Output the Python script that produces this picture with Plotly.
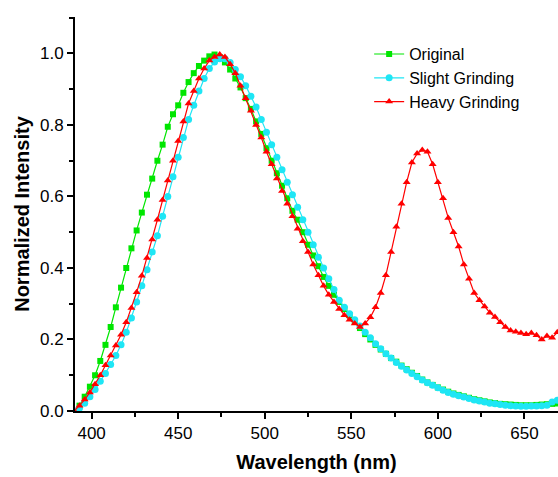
import plotly.graph_objects as go

wavelength = list(range(390, 670, 3))

original = [
    0.0, 0.015, 0.04, 0.068, 0.10, 0.14, 0.185, 0.235, 0.29, 0.345,
    0.40, 0.455, 0.505, 0.555, 0.605, 0.65, 0.70, 0.745, 0.795, 0.83,
    0.855, 0.89, 0.92, 0.945, 0.965, 0.98, 0.992, 0.997, 0.99, 0.975,
    0.955, 0.93, 0.905, 0.875, 0.845, 0.81, 0.775, 0.735, 0.70, 0.665,
    0.63, 0.595, 0.56, 0.535, 0.50, 0.465, 0.435, 0.405, 0.375, 0.35,
    0.325, 0.305, 0.285, 0.268, 0.25, 0.232, 0.215, 0.20, 0.185, 0.172,
    0.16, 0.148, 0.138, 0.127, 0.117, 0.107, 0.098, 0.088, 0.08, 0.073,
    0.066, 0.06, 0.054, 0.049, 0.045, 0.041, 0.037, 0.033, 0.03, 0.027,
    0.024, 0.022, 0.02, 0.019, 0.018, 0.017, 0.016, 0.016, 0.016, 0.017,
    0.018, 0.019, 0.02, 0.021,
]

slight = [
    0.0, 0.008, 0.022, 0.04, 0.06, 0.083, 0.105, 0.13, 0.155, 0.185,
    0.22, 0.26, 0.305, 0.35, 0.395, 0.445, 0.49, 0.545, 0.60, 0.655,
    0.71, 0.765, 0.815, 0.855, 0.895, 0.93, 0.958, 0.976, 0.985, 0.985,
    0.975, 0.955, 0.935, 0.91, 0.88, 0.85, 0.815, 0.78, 0.745, 0.71,
    0.675, 0.64, 0.605, 0.57, 0.535, 0.50, 0.465, 0.43, 0.40, 0.37,
    0.34, 0.31, 0.29, 0.272, 0.255, 0.238, 0.22, 0.205, 0.188, 0.174,
    0.16, 0.148, 0.136, 0.125, 0.115, 0.105, 0.096, 0.087, 0.079, 0.072,
    0.065, 0.058, 0.052, 0.047, 0.043, 0.039, 0.035, 0.031, 0.028, 0.025,
    0.022, 0.02, 0.018, 0.016, 0.015, 0.014, 0.013, 0.013, 0.014, 0.014,
    0.015, 0.016, 0.025, 0.03,
]

heavy = [
    0.0, 0.015, 0.032, 0.052, 0.075, 0.10, 0.128, 0.155, 0.183, 0.213,
    0.248, 0.288, 0.332, 0.378, 0.428, 0.48, 0.535, 0.59, 0.645, 0.70,
    0.755, 0.81, 0.86, 0.895, 0.93, 0.958, 0.98, 0.99, 0.997, 0.99,
    0.97, 0.945, 0.91, 0.875, 0.84, 0.80, 0.765, 0.725, 0.69, 0.65,
    0.615, 0.58, 0.545, 0.51, 0.475, 0.445, 0.41, 0.38, 0.35, 0.325,
    0.305, 0.285, 0.268, 0.255, 0.245, 0.235, 0.245, 0.262, 0.29, 0.33,
    0.38, 0.445, 0.515, 0.58, 0.64, 0.695, 0.72, 0.73, 0.725, 0.69,
    0.64, 0.595, 0.54, 0.50, 0.46, 0.41, 0.37, 0.33, 0.31, 0.292,
    0.275, 0.263, 0.248, 0.235, 0.225, 0.222, 0.218, 0.215, 0.218, 0.212,
    0.20, 0.21, 0.205, 0.22,
]

series_names = ["Original", "Slight Grinding", "Heavy Grinding"]

fig = go.Figure()
fig.add_trace(go.Scatter(
    x=wavelength, y=original, name=series_names[0], mode="lines+markers",
    line=dict(color="#00e600", width=1.2),
    marker=dict(symbol="square", size=6, color="#00e600"),
))
fig.add_trace(go.Scatter(
    x=wavelength, y=slight, name=series_names[1], mode="lines+markers",
    line=dict(color="#1ee6f5", width=1.2),
    marker=dict(symbol="circle", size=7, color="#1ee6f5"),
))
fig.add_trace(go.Scatter(
    x=wavelength, y=heavy, name=series_names[2], mode="lines+markers",
    line=dict(color="#ff0000", width=1.2),
    marker=dict(symbol="triangle-up", size=7, color="#ff0000"),
))

font_family = "Liberation Sans, Arial, sans-serif"

fig.update_layout(
    width=558, height=477,
    margin=dict(l=75, r=0, t=17, b=66),
    paper_bgcolor="white", plot_bgcolor="white",
    font=dict(family=font_family, size=17, color="black"),
    showlegend=True,
    legend=dict(
        x=0.609, y=0.949, xanchor="left", yanchor="top",
        bgcolor="rgba(0,0,0,0)", font=dict(size=16, color="black"),
        tracegroupgap=0,
    ),
)

fig.update_xaxes(
    range=[390.4, 669.4],
    tick0=400, dtick=50,
    ticks="outside", ticklen=6, tickwidth=2, tickcolor="black",
    showline=True, linecolor="black", linewidth=2,
    showgrid=False, zeroline=False,
    minor=dict(ticks="outside", ticklen=4, tickwidth=2, tickcolor="black", dtick=25, tick0=400),
    title=dict(text="<b>Wavelength (nm)</b>", font=dict(size=20), standoff=13),
    tickfont=dict(size=17),
)
fig.update_yaxes(
    range=[0, 1.102],
    tick0=0, dtick=0.2, tickformat=".1f",
    ticks="outside", ticklen=6, tickwidth=2, tickcolor="black",
    showline=True, linecolor="black", linewidth=2,
    showgrid=False, zeroline=False,
    minor=dict(ticks="outside", ticklen=4, tickwidth=2, tickcolor="black", dtick=0.1, tick0=0),
    title=dict(text="<b>Normalized Intensity</b>", font=dict(size=20), standoff=5),
    tickfont=dict(size=17),
)

fig.write_html("out.html")
